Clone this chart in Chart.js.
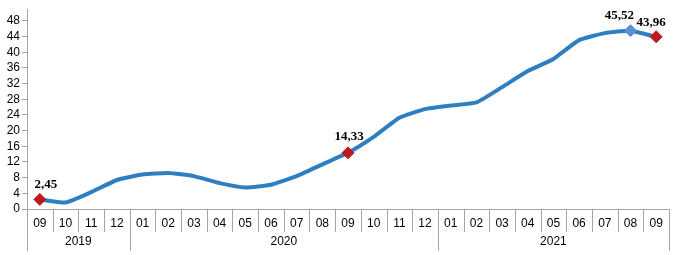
<!DOCTYPE html>
<html>
<head>
<meta charset="utf-8">
<script src="https://cdn.jsdelivr.net/npm/chart.js@4"></script>
<style>
  body { margin: 0; background: #fff; }
  canvas { display: block; }
</style>
</head>
<body>
<canvas id="chart" width="676" height="255"></canvas>
<script>
const months = ["09", "10", "11", "12", "01", "02", "03", "04", "05", "06", "07", "08",
	"09", "10", "11", "12", "01", "02", "03", "04", "05", "06", "07", "08", "09"];
const years = ["2019", "2020", "2021"];
const yearCounts = [4, 12, 9];
const yTicks = [0, 4, 8, 12, 16, 20, 24, 28, 32, 36, 40, 44, 48];
const values = [2.45, 1.65, 4.3, 7.4, 8.8, 9.2, 8.4, 6.6, 5.5, 6.2, 8.4, 11.4,
	14.33, 18.4, 23.3, 25.5, 26.4, 27.2, 31.1, 35.2, 38.3, 43.1, 44.9, 45.52, 43.96];
const labelled = [0, 12, 23, 24];
const highlight = [23];

const lineColor = "#2e7fc1";
const red = "#be1a1e";
const lightBlue = "#5b8ed2";
const axisGrey = "#a6a6a6";

// label nudges (px) so they sit like in the original
const labelShift = { 0: 6, 12: 1, 23: -11, 24: -5 };
const labelLift = { 0: 11, 12: 13, 23: 12, 24: 11 };

const fmt = (v) => v.toFixed(2).replace(".", ",");

const axisPlugin = {
	id: "axisGroups",
	afterDraw(chart) {
		const c = chart.ctx;
		const x = chart.scales.x;
		const area = chart.chartArea;
		const half = (x.getPixelForValue(1) - x.getPixelForValue(0)) / 2;
		const bottom = area.bottom;
		c.save();
		c.strokeStyle = axisGrey;
		c.lineWidth = 1;
		// month separators
		for (let i = 1; i < months.length; i++) {
			const px = Math.round(x.getPixelForValue(i) - half) + 0.5;
			c.beginPath();
			c.moveTo(px, bottom);
			c.lineTo(px, bottom + 23);
			c.stroke();
		}
		// year separators + labels
		let start = 0;
		const edges = [0];
		yearCounts.forEach((n) => { start += n; edges.push(start); });
		edges.forEach((e) => {
			const px = Math.round(x.getPixelForValue(e) - half) + 0.5;
			c.beginPath();
			c.moveTo(px, bottom);
			c.lineTo(px, bottom + 42);
			c.stroke();
		});
		c.fillStyle = "#000";
		c.font = "12px 'Liberation Sans', Arial, sans-serif";
		c.textAlign = "center";
		c.textBaseline = "middle";
		years.forEach((y, i) => {
			const a = x.getPixelForValue(edges[i]);
			const b = x.getPixelForValue(edges[i + 1] - 1);
			c.fillText(y, (a + b) / 2, bottom + 33);
		});
		// value labels
		const meta = chart.getDatasetMeta(0);
		c.font = "bold 13px 'Liberation Serif', 'Times New Roman', serif";
		c.textBaseline = "alphabetic";
		labelled.forEach((i) => {
			const p = meta.data[i];
			c.fillText(fmt(values[i]), p.x + labelShift[i], p.y - labelLift[i]);
		});
		c.restore();
	},
};

new Chart(document.getElementById("chart"), {
	type: "line",
	data: {
		labels: months,
		datasets: [
			{
				data: values,
				borderColor: lineColor,
				borderWidth: 4,
				tension: 0.15,
				pointStyle: "rectRot",
				pointRadius: values.map((v, i) => (labelled.includes(i) ? 6 : 0)),
				pointHoverRadius: 0,
				pointBackgroundColor: values.map((v, i) => (highlight.includes(i) ? lightBlue : red)),
				pointBorderColor: values.map((v, i) => (highlight.includes(i) ? lightBlue : red)),
				pointBorderWidth: 1,
			},
		],
	},
	options: {
		responsive: false,
		animation: false,
		layout: { padding: { top: 3, right: 6, left: 0, bottom: 0 } },
		plugins: { legend: { display: false }, tooltip: { enabled: false } },
		scales: {
			x: {
				offset: true,
				grid: { display: false, drawTicks: false },
				border: { color: axisGrey },
				ticks: {
					padding: 7,
					color: "#000",
					maxRotation: 0,
					autoSkip: false,
					font: { family: "'Liberation Sans', Arial, sans-serif", size: 12 },
				},
				afterFit: (s) => { s.height = 46; },
			},
			y: {
				min: 0,
				max: 51,
				grid: { drawOnChartArea: false, tickLength: 5, color: axisGrey },
				border: { color: axisGrey },
				ticks: {
					padding: 2,
					autoSkip: false,
					color: "#000",
					font: { family: "'Liberation Sans', Arial, sans-serif", size: 12 },
				},
				afterBuildTicks: (s) => { s.ticks = yTicks.map((v) => ({ value: v })); },
				afterFit: (s) => { s.width = 27; },
			},
		},
	},
	plugins: [axisPlugin],
});
</script>
</body>
</html>
